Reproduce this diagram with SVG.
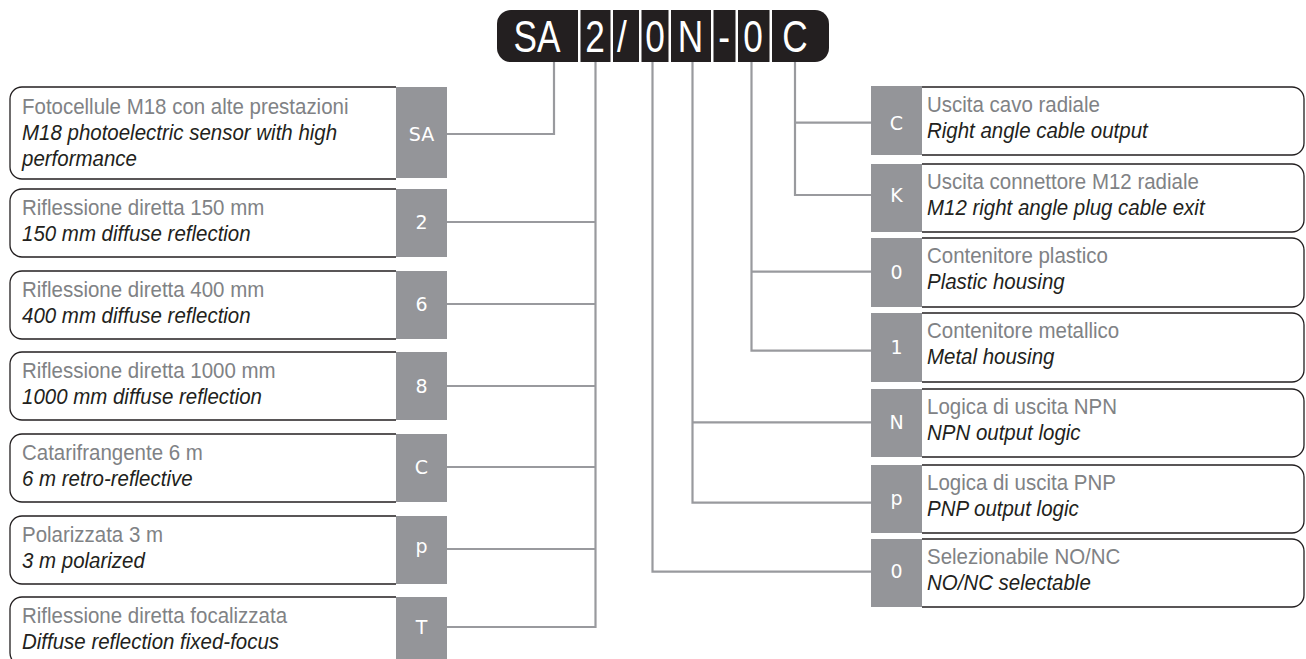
<svg xmlns="http://www.w3.org/2000/svg" width="1306" height="659" viewBox="0 0 1306 659">
<style>
.bar{fill:#231f20}
.bt{fill:#fff;font-family:"Liberation Sans",Arial,sans-serif;font-size:44px;text-anchor:middle}
.sq{fill:#949599}
.sl{fill:#fff;font-family:"DejaVu Sans","Liberation Sans",sans-serif;font-size:19px;text-anchor:middle}
.bx{fill:#fff;stroke:#231f20;stroke-width:1.3}
.it{fill:#808285;font-family:"Liberation Sans",Arial,sans-serif;font-size:22.5px}
.en{fill:#231f20;font-family:"Liberation Sans",Arial,sans-serif;font-size:22.5px;font-style:italic}
.cn{fill:none;stroke:#999a9e;stroke-width:2.2}
</style>
<rect width="1306" height="659" fill="#fff"/>
<g id="code">
<path class="bar" d="M511,10 H578 V62 H511 A14,14 0 0 1 497,48 V24 A14,14 0 0 1 511,10 Z"/>
<rect class="bar" x="580.5" y="10" width="30" height="52"/>
<rect class="bar" x="613" y="10" width="26" height="52"/>
<rect class="bar" x="641.5" y="10" width="27" height="52"/>
<rect class="bar" x="671" y="10" width="40" height="52"/>
<rect class="bar" x="713.5" y="10" width="22" height="52"/>
<rect class="bar" x="738" y="10" width="31.5" height="52"/>
<path class="bar" d="M772,10 H815 A14,14 0 0 1 829,24 V48 A14,14 0 0 1 815,62 H772 Z"/>
<text class="bt" transform="translate(537,52) scale(0.8,1)">SA</text>
<text class="bt" transform="translate(595,52) scale(0.8,1)">2</text>
<text class="bt" transform="translate(622,52) scale(0.8,1)">/</text>
<text class="bt" transform="translate(655,52) scale(0.8,1)">0</text>
<text class="bt" transform="translate(690.5,52) scale(0.8,1)">N</text>
<text class="bt" transform="translate(724,52) scale(0.8,1)">-</text>
<text class="bt" transform="translate(753,52) scale(0.8,1)">0</text>
<text class="bt" transform="translate(795,52) scale(0.8,1)">C</text>
</g>
<g id="connectors">
<path class="cn" d="M554,62 V134 H447"/>
<path class="cn" d="M595.5,62 V627 H447 M595.5,222 H447 M595.5,304 H447 M595.5,386 H447 M595.5,467 H447 M595.5,549 H447"/>
<path class="cn" d="M652.5,62 V571.7 H871"/>
<path class="cn" d="M692.5,62 V502.7 H871 M692.5,422.3 H871"/>
<path class="cn" d="M751.5,62 V350.7 H871 M751.5,271.7 H871"/>
<path class="cn" d="M795,62 V195 H871 M795,122.7 H871"/>
</g>
<g id="n-SA">
<path class="bx" d="M396,87 H22 A12,12 0 0 0 10,99 V167 A12,12 0 0 0 22,179 H396"/>
<rect class="sq" x="396" y="87" width="51" height="91"/>
<text class="sl" x="421.5" y="141">SA</text>
<text class="it" transform="translate(22 114) scale(.91 1)">Fotocellule M18 con alte prestazioni</text>
<text class="en" transform="translate(22 140) scale(.91 1)">M18 photoelectric sensor with high</text>
<text class="en" transform="translate(22 166) scale(.91 1)">performance</text>
</g>
<g id="n-2">
<path class="bx" d="M396,189 H22 A12,12 0 0 0 10,201 V245 A12,12 0 0 0 22,257 H396"/>
<rect class="sq" x="396" y="189" width="51" height="68"/>
<text class="sl" x="421.5" y="229">2</text>
<text class="it" transform="translate(22 215) scale(.91 1)">Riflessione diretta 150 mm</text>
<text class="en" transform="translate(22 241) scale(.91 1)">150 mm diffuse reflection</text>
</g>
<g id="n-6">
<path class="bx" d="M396,271 H22 A12,12 0 0 0 10,283 V327 A12,12 0 0 0 22,339 H396"/>
<rect class="sq" x="396" y="271" width="51" height="68"/>
<text class="sl" x="421.5" y="311">6</text>
<text class="it" transform="translate(22 297) scale(.91 1)">Riflessione diretta 400 mm</text>
<text class="en" transform="translate(22 323) scale(.91 1)">400 mm diffuse reflection</text>
</g>
<g id="n-8">
<path class="bx" d="M396,352 H22 A12,12 0 0 0 10,364 V408 A12,12 0 0 0 22,420 H396"/>
<rect class="sq" x="396" y="352" width="51" height="68"/>
<text class="sl" x="421.5" y="393">8</text>
<text class="it" transform="translate(22 378) scale(.91 1)">Riflessione diretta 1000 mm</text>
<text class="en" transform="translate(22 404) scale(.91 1)">1000 mm diffuse reflection</text>
</g>
<g id="n-C">
<path class="bx" d="M396,434 H22 A12,12 0 0 0 10,446 V490 A12,12 0 0 0 22,502 H396"/>
<rect class="sq" x="396" y="434" width="51" height="68"/>
<text class="sl" x="421.5" y="474">C</text>
<text class="it" transform="translate(22 460) scale(.91 1)">Catarifrangente 6 m</text>
<text class="en" transform="translate(22 486) scale(.91 1)">6 m retro-reflective</text>
</g>
<g id="n-p">
<path class="bx" d="M396,516 H22 A12,12 0 0 0 10,528 V572 A12,12 0 0 0 22,584 H396"/>
<rect class="sq" x="396" y="516" width="51" height="68"/>
<text class="sl" x="421.5" y="553">p</text>
<text class="it" transform="translate(22 542) scale(.91 1)">Polarizzata 3 m</text>
<text class="en" transform="translate(22 568) scale(.91 1)">3 m polarized</text>
</g>
<g id="n-T">
<path class="bx" d="M396,597 H22 A12,12 0 0 0 10,609 V653 A12,12 0 0 0 22,665 H396"/>
<rect class="sq" x="396" y="597" width="51" height="68"/>
<text class="sl" x="421.5" y="634">T</text>
<text class="it" transform="translate(22 623) scale(.91 1)">Riflessione diretta focalizzata</text>
<text class="en" transform="translate(22 649) scale(.91 1)">Diffuse reflection fixed-focus</text>
</g>
<g id="n-rC">
<path class="bx" d="M922,87 H1292 A12,12 0 0 1 1304,99 V143 A12,12 0 0 1 1292,155 H922"/>
<rect class="sq" x="871" y="86" width="51" height="69"/>
<text class="sl" x="896.5" y="130">C</text>
<text class="it" transform="translate(927 112) scale(.91 1)">Uscita cavo radiale</text>
<text class="en" transform="translate(927 138) scale(.91 1)">Right angle cable output</text>
</g>
<g id="n-rK">
<path class="bx" d="M922,164 H1292 A12,12 0 0 1 1304,176 V220 A12,12 0 0 1 1292,232 H922"/>
<rect class="sq" x="871" y="164" width="51" height="68"/>
<text class="sl" x="896.5" y="202">K</text>
<text class="it" transform="translate(927 189) scale(.91 1)">Uscita connettore M12 radiale</text>
<text class="en" transform="translate(927 215) scale(.91 1)">M12 right angle plug cable exit</text>
</g>
<g id="n-r0a">
<path class="bx" d="M922,238 H1292 A12,12 0 0 1 1304,250 V295 A12,12 0 0 1 1292,307 H922"/>
<rect class="sq" x="871" y="238" width="51" height="69"/>
<text class="sl" x="896.5" y="279">0</text>
<text class="it" transform="translate(927 263) scale(.91 1)">Contenitore plastico</text>
<text class="en" transform="translate(927 289) scale(.91 1)">Plastic housing</text>
</g>
<g id="n-r1">
<path class="bx" d="M922,313 H1292 A12,12 0 0 1 1304,325 V370 A12,12 0 0 1 1292,382 H922"/>
<rect class="sq" x="871" y="313" width="51" height="69"/>
<text class="sl" x="896.5" y="354">1</text>
<text class="it" transform="translate(927 338) scale(.91 1)">Contenitore metallico</text>
<text class="en" transform="translate(927 364) scale(.91 1)">Metal housing</text>
</g>
<g id="n-rN">
<path class="bx" d="M922,389 H1292 A12,12 0 0 1 1304,401 V445 A12,12 0 0 1 1292,457 H922"/>
<rect class="sq" x="871" y="389" width="51" height="68"/>
<text class="sl" x="896.5" y="429">N</text>
<text class="it" transform="translate(927 414) scale(.91 1)">Logica di uscita NPN</text>
<text class="en" transform="translate(927 440) scale(.91 1)">NPN output logic</text>
</g>
<g id="n-rp">
<path class="bx" d="M922,465 H1292 A12,12 0 0 1 1304,477 V521 A12,12 0 0 1 1292,533 H922"/>
<rect class="sq" x="871" y="465" width="51" height="68"/>
<text class="sl" x="896.5" y="505">p</text>
<text class="it" transform="translate(927 490) scale(.91 1)">Logica di uscita PNP</text>
<text class="en" transform="translate(927 516) scale(.91 1)">PNP output logic</text>
</g>
<g id="n-r0b">
<path class="bx" d="M922,539 H1292 A12,12 0 0 1 1304,551 V595 A12,12 0 0 1 1292,607 H922"/>
<rect class="sq" x="871" y="539" width="51" height="68"/>
<text class="sl" x="896.5" y="578">0</text>
<text class="it" transform="translate(927 564) scale(.91 1)">Selezionabile NO/NC</text>
<text class="en" transform="translate(927 590) scale(.91 1)">NO/NC selectable</text>
</g>
</svg>
